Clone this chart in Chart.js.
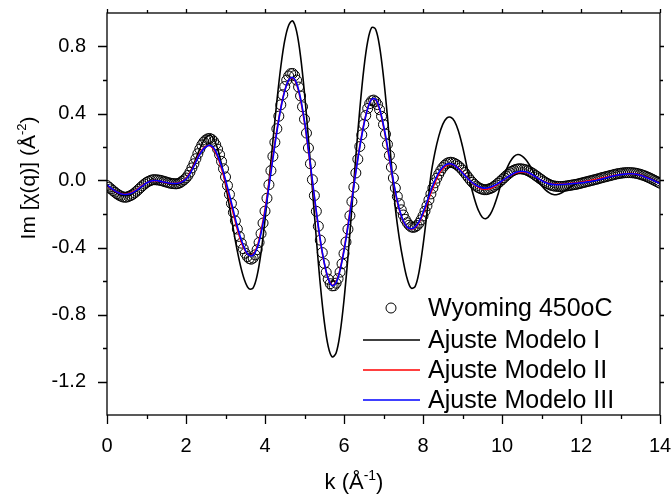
<!DOCTYPE html>
<html>
<head>
<meta charset="utf-8">
<script src="https://cdn.jsdelivr.net/npm/chart.js@4"></script>
<style>
  html, body { margin: 0; padding: 0; background: #fff; }
</style>
</head>
<body>
<canvas id="chart" width="672" height="496"></canvas>
<script>
// Sampling grids (Å^-1): measured data every 0.05, fits every 0.1
const kStep = 0.05;
const fitStep = 0.1;

// Wyoming 450oC, Im[chi(q)], k = 0 .. 14 step 0.05 (one row per unit of k)
const wyoming = [
  -0.030, -0.040, -0.050, -0.060, -0.070, -0.079, -0.087, -0.093, -0.098, -0.100, -0.099, -0.095, -0.090, -0.083, -0.074, -0.064, -0.053, -0.042, -0.031, -0.021,
  -0.012, -0.005, 0.000, 0.004, 0.005, 0.004, 0.003, 0.001, -0.002, -0.006, -0.009, -0.013, -0.016, -0.018, -0.019, -0.020, -0.018, -0.013, -0.005, 0.004,
  0.015, 0.030, 0.050, 0.075, 0.100, 0.130, 0.160, 0.188, 0.212, 0.230, 0.242, 0.249, 0.251, 0.246, 0.234, 0.214, 0.187, 0.154, 0.114, 0.070,
  0.021, -0.030, -0.083, -0.137, -0.190, -0.241, -0.290, -0.334, -0.374, -0.407, -0.434, -0.454, -0.466, -0.470, -0.463, -0.444, -0.413, -0.370, -0.317, -0.254,
  -0.183, -0.106, -0.025, 0.059, 0.144, 0.228, 0.309, 0.384, 0.452, 0.512, 0.561, 0.599, 0.624, 0.638, 0.639, 0.626, 0.599, 0.558, 0.505, 0.440,
  0.366, 0.283, 0.194, 0.100, 0.005, -0.090, -0.184, -0.273, -0.356, -0.430, -0.495, -0.548, -0.589, -0.616, -0.629, -0.628, -0.613, -0.586, -0.547, -0.497,
  -0.436, -0.367, -0.291, -0.210, -0.126, -0.040, 0.045, 0.127, 0.203, 0.273, 0.335, 0.388, 0.430, 0.459, 0.476, 0.480, 0.472, 0.453, 0.423, 0.383,
  0.334, 0.277, 0.216, 0.150, 0.080, 0.015, -0.045, -0.095, -0.138, -0.175, -0.206, -0.232, -0.252, -0.267, -0.277, -0.280, -0.277, -0.269, -0.255, -0.235,
  -0.212, -0.183, -0.151, -0.116, -0.080, -0.045, -0.014, 0.014, 0.038, 0.059, 0.077, 0.091, 0.101, 0.107, 0.109, 0.107, 0.102, 0.095, 0.086, 0.075,
  0.062, 0.048, 0.033, 0.017, 0.002, -0.011, -0.023, -0.033, -0.042, -0.048, -0.052, -0.055, -0.055, -0.052, -0.048, -0.043, -0.035, -0.026, -0.016, -0.006,
  0.005, 0.016, 0.027, 0.037, 0.047, 0.055, 0.061, 0.066, 0.069, 0.070, 0.069, 0.067, 0.064, 0.059, 0.053, 0.046, 0.039, 0.030, 0.022, 0.013,
  0.005, -0.004, -0.011, -0.018, -0.024, -0.029, -0.032, -0.034, -0.035, -0.036, -0.036, -0.035, -0.034, -0.032, -0.030, -0.028, -0.026, -0.024, -0.022, -0.019,
  -0.016, -0.013, -0.010, -0.007, -0.004, -0.001, 0.002, 0.005, 0.008, 0.011, 0.015, 0.018, 0.021, 0.024, 0.027, 0.030, 0.033, 0.036, 0.039, 0.041,
  0.043, 0.045, 0.046, 0.047, 0.047, 0.047, 0.046, 0.045, 0.043, 0.040, 0.037, 0.033, 0.029, 0.024, 0.019, 0.014, 0.008, 0.002, -0.004, -0.010,
  -0.016
];

// Ajuste Modelo I, k = 0 .. 14 step 0.1
const modelI = [
  -0.030, -0.050, -0.068, -0.082, -0.090, -0.090, -0.083, -0.070, -0.052, -0.032,
  -0.014, -0.002, 0.003, 0.000, -0.007, -0.015, -0.021, -0.024, -0.022, -0.012,
  0.010, 0.048, 0.100, 0.160, 0.215, 0.255, 0.270, 0.250, 0.190, 0.096,
  -0.023, -0.156, -0.294, -0.422, -0.529, -0.606, -0.647, -0.641, -0.568, -0.429,
  -0.236, -0.008, 0.236, 0.472, 0.679, 0.836, 0.927, 0.953, 0.890, 0.741,
  0.521, 0.248, -0.050, -0.349, -0.621, -0.841, -0.990, -1.053, -1.030, -0.912,
  -0.714, -0.456, -0.161, 0.144, 0.425, 0.662, 0.830, 0.913, 0.903, 0.801,
  0.618, 0.380, 0.095, -0.165, -0.345, -0.481, -0.587, -0.642, -0.633, -0.545,
  -0.389, -0.195, 0.030, 0.165, 0.265, 0.335, 0.372, 0.378, 0.353, 0.293,
  0.204, 0.095, -0.018, -0.107, -0.177, -0.219, -0.227, -0.203, -0.152, -0.082,
  0.000, 0.059, 0.110, 0.143, 0.155, 0.147, 0.125, 0.091, 0.048, 0.000,
  -0.030, -0.056, -0.074, -0.084, -0.084, -0.075, -0.060, -0.043, -0.028, -0.018,
  -0.012, -0.009, -0.006, -0.003, 0.001, 0.006, 0.012, 0.018, 0.025, 0.031,
  0.036, 0.040, 0.042, 0.042, 0.040, 0.034, 0.027, 0.018, 0.008, -0.003,
  -0.015
];

// Ajuste Modelo II
const modelII = [
  -0.028, -0.047, -0.063, -0.075, -0.081, -0.081, -0.075, -0.063, -0.047, -0.030,
  -0.014, -0.004, -0.001, -0.003, -0.008, -0.013, -0.017, -0.018, -0.015, -0.006,
  0.012, 0.045, 0.090, 0.140, 0.180, 0.203, 0.208, 0.188, 0.140, 0.070,
  -0.012, -0.105, -0.200, -0.292, -0.368, -0.420, -0.447, -0.440, -0.395, -0.300,
  -0.172, -0.018, 0.145, 0.300, 0.435, 0.537, 0.600, 0.613, 0.575, 0.482,
  0.345, 0.175, -0.008, -0.192, -0.360, -0.493, -0.585, -0.625, -0.605, -0.530,
  -0.412, -0.265, -0.105, 0.058, 0.207, 0.335, 0.432, 0.485, 0.482, 0.425,
  0.322, 0.195, 0.057, -0.072, -0.175, -0.243, -0.280, -0.290, -0.282, -0.252,
  -0.202, -0.140, -0.074, -0.014, 0.036, 0.071, 0.091, 0.097, 0.090, 0.072,
  0.048, 0.022, -0.003, -0.024, -0.040, -0.050, -0.052, -0.047, -0.036, -0.021,
  -0.004, 0.013, 0.028, 0.040, 0.048, 0.051, 0.049, 0.041, 0.029, 0.015,
  0.001, -0.010, -0.018, -0.022, -0.023, -0.022, -0.020, -0.018, -0.016, -0.013,
  -0.010, -0.006, -0.002, 0.003, 0.008, 0.013, 0.018, 0.023, 0.028, 0.032,
  0.036, 0.039, 0.041, 0.041, 0.038, 0.032, 0.024, 0.015, 0.005, -0.006,
  -0.017
];

// Ajuste Modelo III
const modelIII = [
  -0.025, -0.045, -0.062, -0.075, -0.082, -0.083, -0.078, -0.066, -0.050, -0.032,
  -0.015, -0.004, 0.000, -0.002, -0.007, -0.012, -0.016, -0.018, -0.016, -0.008,
  0.008, 0.040, 0.085, 0.135, 0.175, 0.200, 0.210, 0.195, 0.150, 0.085,
  0.005, -0.085, -0.180, -0.275, -0.355, -0.415, -0.447, -0.445, -0.405, -0.315,
  -0.190, -0.035, 0.130, 0.290, 0.430, 0.535, 0.600, 0.615, 0.580, 0.490,
  0.355, 0.185, 0.000, -0.185, -0.355, -0.490, -0.585, -0.628, -0.610, -0.535,
  -0.420, -0.275, -0.115, 0.050, 0.200, 0.330, 0.430, 0.485, 0.485, 0.430,
  0.330, 0.205, 0.065, -0.065, -0.170, -0.240, -0.278, -0.288, -0.278, -0.245,
  -0.192, -0.128, -0.060, 0.000, 0.048, 0.080, 0.097, 0.100, 0.090, 0.070,
  0.045, 0.020, -0.003, -0.022, -0.036, -0.044, -0.045, -0.040, -0.030, -0.017,
  -0.002, 0.014, 0.030, 0.043, 0.052, 0.055, 0.052, 0.043, 0.030, 0.015,
  0.000, -0.012, -0.020, -0.024, -0.025, -0.024, -0.022, -0.020, -0.018, -0.016,
  -0.014, -0.011, -0.007, -0.003, 0.002, 0.008, 0.014, 0.020, 0.026, 0.031,
  0.035, 0.038, 0.040, 0.040, 0.037, 0.031, 0.023, 0.014, 0.004, -0.007,
  -0.018
];

const seriesLabels = ['Wyoming 450oC', 'Ajuste Modelo I', 'Ajuste Modelo II', 'Ajuste Modelo III'];
const seriesColors = ['#000000', '#000000', '#ff0000', '#0000ff'];

// Axis ticks
const xTicks = [0, 2, 4, 6, 8, 10, 12, 14];
const xMinorTicks = [1, 3, 5, 7, 9, 11, 13];
const yTicks = [-1.2, -0.8, -0.4, 0.0, 0.4, 0.8];
const yMinorTicks = [-1.0, -0.6, -0.2, 0.2, 0.6];

const FONT = 'Arial, "Liberation Sans", sans-serif';

function toPoints(values, step) {
    return values.map((v, i) => ({ x: +(i * step).toFixed(2), y: v }));
}

// draw text made of normal + superscript parts, starting at (x, y) baseline
function drawRich(ctx, parts, x, y, size) {
    let cx = x;
    parts.forEach(p => {
        const fs = p.sup ? Math.round(size * 0.62) : size;
        ctx.font = fs + 'px ' + FONT;
        ctx.fillText(p.t, cx, p.sup ? y - size * 0.42 : y);
        cx += ctx.measureText(p.t).width;
    });
}
function richWidth(ctx, parts, size) {
    let w = 0;
    parts.forEach(p => {
        ctx.font = (p.sup ? Math.round(size * 0.62) : size) + 'px ' + FONT;
        w += ctx.measureText(p.t).width;
    });
    return w;
}

// Chart.js reserves room for the end labels; the frame here is fixed instead
function noPad(s) {
    s.paddingTop = 0; s.paddingBottom = 0; s.paddingLeft = 0; s.paddingRight = 0;
}

const framePlugin = {
    id: 'frame',
    afterDraw(chart) {
        const { ctx, chartArea: a, scales: { x, y } } = chart;
        ctx.save();
        ctx.strokeStyle = '#000';
        ctx.fillStyle = '#000';
        ctx.lineWidth = 1.3;
        ctx.strokeRect(a.left, a.top, a.right - a.left, a.bottom - a.top);

        // tick marks
        ctx.beginPath();
        xTicks.forEach(v => {
            const px = Math.round(x.getPixelForValue(v)) + 0.5;
            ctx.moveTo(px, a.bottom); ctx.lineTo(px, a.bottom + 9);
            ctx.moveTo(px, a.top); ctx.lineTo(px, a.top - 4);
        });
        xMinorTicks.forEach(v => {
            const px = Math.round(x.getPixelForValue(v)) + 0.5;
            ctx.moveTo(px, a.bottom); ctx.lineTo(px, a.bottom + 4);
            ctx.moveTo(px, a.top); ctx.lineTo(px, a.top - 3);
        });
        yTicks.forEach(v => {
            const py = Math.round(y.getPixelForValue(v)) + 0.5;
            ctx.moveTo(a.left, py); ctx.lineTo(a.left - 9, py);
            ctx.moveTo(a.right, py); ctx.lineTo(a.right + 4, py);
        });
        yMinorTicks.forEach(v => {
            const py = Math.round(y.getPixelForValue(v)) + 0.5;
            ctx.moveTo(a.left, py); ctx.lineTo(a.left - 4, py);
            ctx.moveTo(a.right, py); ctx.lineTo(a.right + 3, py);
        });
        ctx.stroke();

        // axis titles
        ctx.textBaseline = 'alphabetic';
        ctx.textAlign = 'left';
        const xt = [{ t: 'k (Å' }, { t: '-1', sup: true }, { t: ')' }];
        drawRich(ctx, xt, 354 - richWidth(ctx, xt, 22) / 2, 489, 22);

        const yt = [{ t: 'Im [χ(q)] (Å' }, { t: '-2', sup: true }, { t: ')' }];
        ctx.save();
        ctx.translate(35, 178);
        ctx.rotate(-Math.PI / 2);
        drawRich(ctx, yt, -richWidth(ctx, yt, 21) / 2, 0, 21);
        ctx.restore();

        // legend
        const rows = [308, 340, 370, 400];
        ctx.beginPath();
        ctx.arc(391, rows[0], 5, 0, Math.PI * 2);
        ctx.lineWidth = 1;
        ctx.stroke();
        for (let i = 1; i < 4; i++) {
            ctx.strokeStyle = seriesColors[i];
            ctx.lineWidth = 1.5;
            ctx.beginPath();
            ctx.moveTo(363, rows[i]); ctx.lineTo(420, rows[i]);
            ctx.stroke();
        }
        ctx.font = '25px ' + FONT;
        ctx.textBaseline = 'middle';
        seriesLabels.forEach((lab, i) => ctx.fillText(lab, 428, rows[i] + 1));
        ctx.restore();
    }
};

new Chart(document.getElementById('chart'), {
    type: 'line',
    data: {
        datasets: [
            {
                label: seriesLabels[0],
                data: toPoints(wyoming, kStep),
                showLine: false,
                pointStyle: 'circle',
                pointRadius: 5,
                pointBorderWidth: 1,
                pointBorderColor: seriesColors[0],
                pointBackgroundColor: 'rgba(0,0,0,0)',
                order: 4
            },
            {
                label: seriesLabels[1],
                data: toPoints(modelI, fitStep),
                borderColor: seriesColors[1],
                borderWidth: 1.6,
                pointRadius: 0,
                tension: 0.35,
                order: 3
            },
            {
                label: seriesLabels[2],
                data: toPoints(modelII, fitStep),
                borderColor: seriesColors[2],
                borderWidth: 1.6,
                pointRadius: 0,
                tension: 0.35,
                order: 2
            },
            {
                label: seriesLabels[3],
                data: toPoints(modelIII, fitStep),
                borderColor: seriesColors[3],
                borderWidth: 1.6,
                pointRadius: 0,
                tension: 0.35,
                order: 1
            }
        ]
    },
    options: {
        responsive: false,
        animation: false,
        devicePixelRatio: 1,
        layout: { padding: { top: 13, right: 12, left: 0, bottom: 0 } },
        plugins: {
            legend: { display: false },
            tooltip: { enabled: false }
        },
        scales: {
            x: {
                type: 'linear',
                min: 0,
                max: 14,
                grid: { display: false },
                border: { display: false },
                afterBuildTicks: s => { s.ticks = xTicks.map(v => ({ value: v })); },
                afterFit: s => { s.height = 81; noPad(s); },
                ticks: {
                    color: '#000',
                    font: { family: FONT, size: 20 },
                    padding: 11,
                    maxRotation: 0,
                    callback: v => String(v)
                }
            },
            y: {
                type: 'linear',
                min: -1.4,
                max: 1.0,
                grid: { display: false },
                border: { display: false },
                afterBuildTicks: s => { s.ticks = yTicks.map(v => ({ value: v })); },
                afterFit: s => { s.width = 107; noPad(s); },
                ticks: {
                    color: '#000',
                    font: { family: FONT, size: 20 },
                    padding: 13,
                    callback: v => v.toFixed(1)
                }
            }
        }
    },
    plugins: [framePlugin]
});
</script>
</body>
</html>
